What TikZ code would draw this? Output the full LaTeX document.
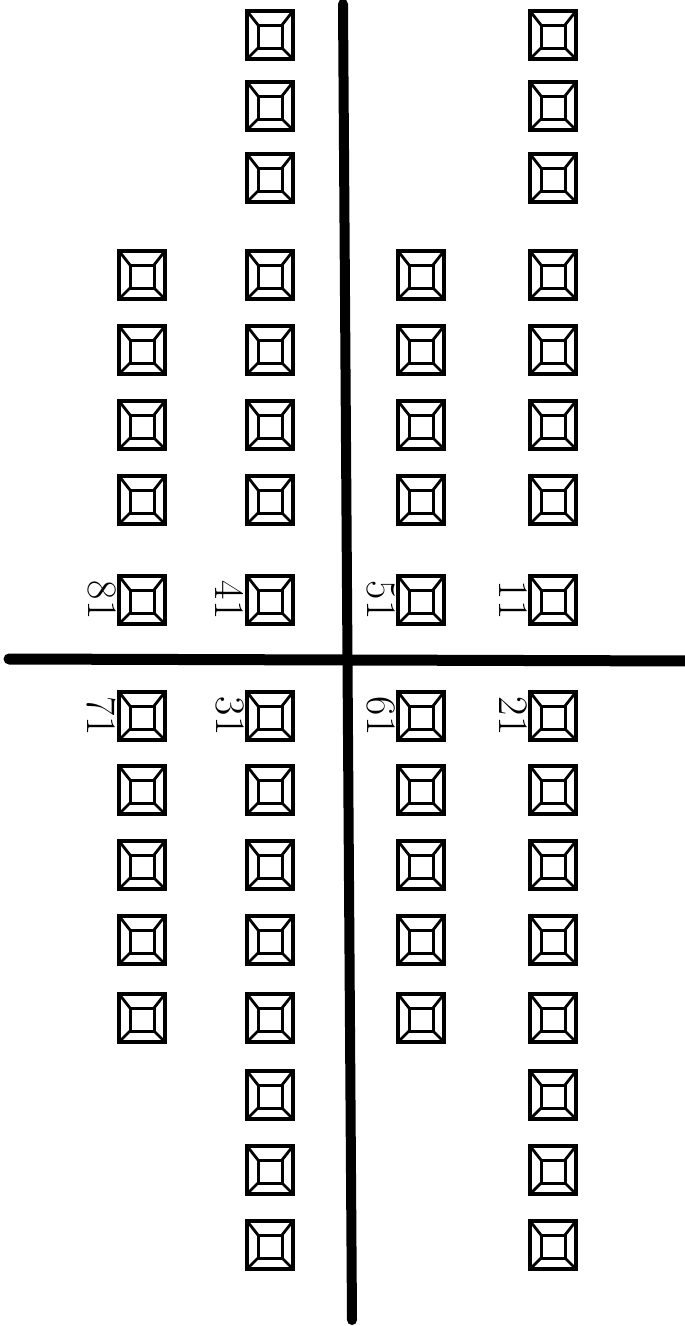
\documentclass[tikz,border=0pt]{standalone}
\begin{document}
\begin{tikzpicture}[x=1pt,y=-1pt]
\tikzset{
 tooth/.style={draw, line width=4pt, minimum width=46pt, minimum height=48pt, inner sep=0pt, outer sep=0pt,
  path picture={
   \coordinate (pc) at (path picture bounding box.center);
   \draw[line width=3pt] ([shift={(-12pt,-13pt)}]pc) rectangle ([shift={(12pt,10pt)}]pc);
   \draw[line width=2.8pt] (path picture bounding box.north west) -- ([shift={(-12pt,10pt)}]pc)
     (path picture bounding box.north east) -- ([shift={(12pt,10pt)}]pc)
     (path picture bounding box.south west) -- ([shift={(-12pt,-13pt)}]pc)
     (path picture bounding box.south east) -- ([shift={(12pt,-13pt)}]pc);
  }},
 lbl/.style={rotate=-90, anchor=north, inner sep=1pt, font=\fontsize{42}{42}\selectfont},
 axis/.style={line width=10pt, line cap=round}
}
\useasboundingbox[fill=white] (0,0) rectangle (685,1326);
% axes
\coordinate (vt) at (343,4);
\coordinate (vb) at (352,1320);
\coordinate (hl) at (9,659);
\coordinate (hr) at (700,661);
\draw[axis] (vt) -- (vb);
\draw[axis, line width=11pt] (hl) -- (hr);
% upper teeth
\foreach \y [count=\i] in {35,106,178,275,350,425,500,600} {
  \node[tooth] (B-u\i) at (270,\y) {};
  \node[tooth] (D-u\i) at (553,\y) {};
}
\foreach \y [count=\i] in {275,350,425,500,600} {
  \node[tooth] (A-u\i) at (142,\y) {};
  \node[tooth] (C-u\i) at (421,\y) {};
}
% lower teeth
\foreach \y [count=\i] in {716,790,865,940,1018,1095,1170,1245} {
  \node[tooth] (B-l\i) at (270,\y) {};
  \node[tooth] (D-l\i) at (553,\y) {};
}
\foreach \y [count=\i] in {716,790,865,940,1018} {
  \node[tooth] (A-l\i) at (142,\y) {};
  \node[tooth] (C-l\i) at (421,\y) {};
}
% labels
\node[lbl] (la1) at ([xshift=-2pt]A-u5.west) {81};
\node[lbl] (lb1) at ([xshift=-2pt]B-u8.west) {41};
\node[lbl] (lc1) at ([xshift=-2pt]C-u5.west) {51};
\node[lbl] (ld1) at ([xshift=-2pt]D-u8.west) {11};
\node[lbl] (la2) at ([xshift=-2pt]A-l1.west) {71};
\node[lbl] (lb2) at ([xshift=-2pt]B-l1.west) {31};
\node[lbl] (lc2) at ([xshift=-2pt]C-l1.west) {61};
\node[lbl] (ld2) at ([xshift=-2pt]D-l1.west) {21};
\end{tikzpicture}
\end{document}
